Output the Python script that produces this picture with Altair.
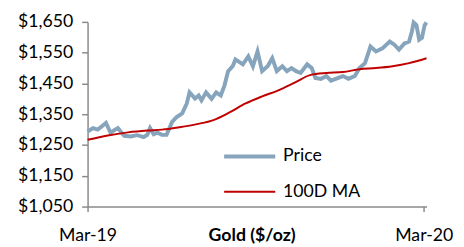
import altair as alt
import pandas as pd

price_dates = ["2019-03-01","2019-03-07","2019-03-12","2019-03-17","2019-03-21","2019-03-26","2019-03-31",
"2019-04-03","2019-04-07","2019-04-10","2019-04-17","2019-04-24","2019-05-01","2019-05-05","2019-05-08",
"2019-05-12","2019-05-16","2019-05-21","2019-05-26","2019-06-01","2019-06-06","2019-06-12","2019-06-17",
"2019-06-20","2019-06-26","2019-06-30","2019-07-03","2019-07-08","2019-07-14","2019-07-19","2019-07-24",
"2019-07-28","2019-08-01","2019-08-06","2019-08-09","2019-08-17","2019-08-23","2019-08-28","2019-09-02",
"2019-09-07","2019-09-13","2019-09-18","2019-09-23","2019-09-29","2019-10-04","2019-10-09","2019-10-14",
"2019-10-19","2019-10-26","2019-10-31","2019-11-04","2019-11-10","2019-11-16","2019-11-21","2019-11-29",
"2019-12-04","2019-12-10","2019-12-17","2019-12-22","2019-12-28","2020-01-03","2020-01-09","2020-01-16",
"2020-01-24","2020-01-29","2020-02-03","2020-02-09","2020-02-14","2020-02-17","2020-02-19","2020-02-22",
"2020-02-25","2020-02-28","2020-03-02","2020-03-04"]
price_values = [1294,1305,1300,1312,1322,1290,1300,
1305,1290,1280,1278,1282,1276,1283,1305,
1285,1290,1283,1283,1325,1341,1353,1385,
1421,1401,1411,1395,1421,1400,1421,1411,
1443,1490,1506,1528,1512,1538,1506,1554,
1490,1506,1532,1490,1506,1490,1500,1490,
1484,1512,1500,1468,1465,1474,1459,1468,
1474,1465,1474,1500,1516,1570,1554,1564,
1586,1576,1560,1580,1586,1618,1648,1640,
1592,1598,1640,1648]

ma_dates = ["2019-03-01","2019-03-23","2019-04-14","2019-05-05","2019-05-21","2019-06-09","2019-06-28",
"2019-07-16","2019-08-02","2019-08-20","2019-09-07","2019-09-24","2019-10-12","2019-10-30","2019-11-16",
"2019-12-04","2019-12-22","2020-01-09","2020-01-27","2020-02-14","2020-03-04"]
ma_values = [1267,1281,1291,1297,1300,1308,1318,
1331,1355,1385,1408,1427,1452,1478,1484,
1487,1496,1500,1506,1516,1532]

series_names = ["Price", "100D MA"]
y_ticks = [1050, 1150, 1250, 1350, 1450, 1550, 1650]

price_df = pd.DataFrame({"date": price_dates, "value": price_values, "series": series_names[0]})
ma_df = pd.DataFrame({"date": ma_dates, "value": ma_values, "series": series_names[1]})

FONT = "Lato"
FS = 18
AXIS_COLOR = "#8a8a8a"

x_enc = alt.X("date:T",
              scale=alt.Scale(type="utc",
                              domain=[alt.DateTime(year=2019, month=3, date=1, utc=True),
                                      alt.DateTime(year=2020, month=3, date=4, utc=True)]),
              axis=alt.Axis(values=[alt.DateTime(year=2019, month=3, date=1, utc=True),
                                    alt.DateTime(year=2020, month=3, date=1, utc=True)],
                            format="%b-%y", title="Gold ($/oz)",
                            titleFont=FONT, titleFontSize=FS, titleFontWeight="bold", titleColor="#000000",
                            titleY=21, titleX=167, titleBaseline="top",
                            labelFont=FONT, labelFontSize=FS, labelColor="#000000",
                            labelPadding=16, tickSize=5, tickColor=AXIS_COLOR, domainColor=AXIS_COLOR,
                            domainWidth=1.5, tickWidth=1.5, grid=False, labelFlush=False))
y_enc = alt.Y("value:Q",
              scale=alt.Scale(domain=[1050, 1650], nice=False, zero=False),
              axis=alt.Axis(values=y_ticks, format="$,.0f", title=None,
                            labelFont=FONT, labelFontSize=FS, labelColor="#000000",
                            labelPadding=9, tickSize=6, tickColor=AXIS_COLOR, domainColor=AXIS_COLOR,
                            domainWidth=1.5, tickWidth=1.5, grid=False))
color_enc = alt.Color("series:N",
                      scale=alt.Scale(domain=series_names, range=["#86a4bc", "#c00000"]),
                      legend=alt.Legend(title=None, orient="none", legendX=137, legendY=109,
                                        symbolType="stroke", symbolSize=2704, rowPadding=-27,
                                        labelFont=FONT, labelFontSize=FS, labelColor="#000000",
                                        labelOffset=6, padding=0))
sw_enc = alt.StrokeWidth("series:N",
                         scale=alt.Scale(domain=series_names, range=[4, 2]),
                         legend=None)

price_line = alt.Chart(price_df).mark_line(interpolate="linear").encode(
    x=x_enc, y=y_enc, color=color_enc, strokeWidth=sw_enc)
ma_line = alt.Chart(ma_df).mark_line(interpolate="monotone").encode(
    x=x_enc, y=y_enc, color=color_enc, strokeWidth=sw_enc)

chart = alt.layer(price_line, ma_line).properties(
    width=345, height=188,
    autosize=alt.AutoSizeParams(type="none"),
    padding={"left": 81, "top": 12, "right": 30, "bottom": 39},
).configure_view(stroke=None)

chart.save("out.html", embed_options={"renderer": "svg", "actions": False})
